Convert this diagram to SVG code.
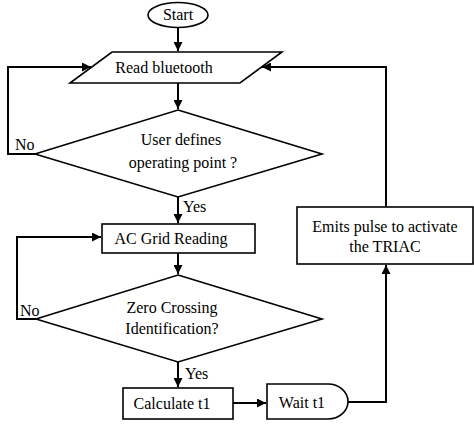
<svg xmlns="http://www.w3.org/2000/svg" width="474" height="424" viewBox="0 0 474 424">
<style>
.s{fill:#fff;stroke:#000;stroke-width:1.6}
.c{fill:none;stroke:#000;stroke-width:2}
text{font-family:"Liberation Serif","Times New Roman",serif;font-size:16px;fill:#000}
.m{text-anchor:middle}
</style>
<defs>
<marker id="a" viewBox="0 0 10 10" refX="10" refY="5" markerWidth="9" markerHeight="9" markerUnits="userSpaceOnUse" orient="auto">
<path d="M0,0 L10,5 L0,10 z" fill="#000"/>
</marker>
</defs>
<rect width="474" height="424" fill="#fff"/>
<g id="connectors">
<path class="c" d="M178,27 V51" marker-end="url(#a)"/>
<path class="c" d="M178,83 V109" marker-end="url(#a)"/>
<path class="c" d="M35,154 H8 V67 H91" marker-end="url(#a)"/>
<path class="c" d="M178,197 V223" marker-end="url(#a)"/>
<path class="c" d="M178,253 V274" marker-end="url(#a)"/>
<path class="c" d="M36,319 H17 V237 H101" marker-end="url(#a)"/>
<path class="c" d="M178,362 V387" marker-end="url(#a)"/>
<path class="c" d="M233,403 H266" marker-end="url(#a)"/>
<path class="c" d="M348,402 H386 V265" marker-end="url(#a)"/>
<path class="c" d="M386,207 V67 H262" marker-end="url(#a)"/>
<text x="15" y="150">No</text>
<text x="20" y="316">No</text>
<text x="183" y="212">Yes</text>
<text x="185" y="379">Yes</text>
</g>
<g id="start">
<ellipse class="s" cx="178" cy="15" rx="30" ry="12.5"/>
<text class="m" x="178" y="20">Start</text>
</g>
<g id="read-bluetooth">
<path class="s" d="M112,52 H282 L240,83 H70 Z"/>
<text class="m" x="164" y="73">Read bluetooth</text>
</g>
<g id="user-defines">
<path class="s" d="M178,110 L322,154 L178,197 L35,154 Z"/>
<text class="m" x="181" y="145">User defines</text>
<text class="m" x="183" y="168">operating point ?</text>
</g>
<g id="ac-grid">
<rect class="s" x="102" y="224" width="153" height="29"/>
<text class="m" x="171" y="244">AC Grid Reading</text>
</g>
<g id="zero-crossing">
<path class="s" d="M178,275 L322,319 L178,362 L36,319 Z"/>
<text class="m" x="172" y="313">Zero Crossing</text>
<text class="m" x="172" y="334">Identification?</text>
</g>
<g id="calculate">
<rect class="s" x="123" y="388" width="110" height="31"/>
<text class="m" x="172" y="409">Calculate t1</text>
</g>
<g id="wait">
<path class="s" d="M267,384 H328 A20,17.5 0 0 1 328,419 H267 Z"/>
<text class="m" x="302" y="408">Wait t1</text>
</g>
<g id="emits">
<rect class="s" x="297" y="207" width="176" height="57"/>
<text class="m" x="385" y="232">Emits pulse to activate</text>
<text class="m" x="385" y="252">the TRIAC</text>
</g>
</svg>
